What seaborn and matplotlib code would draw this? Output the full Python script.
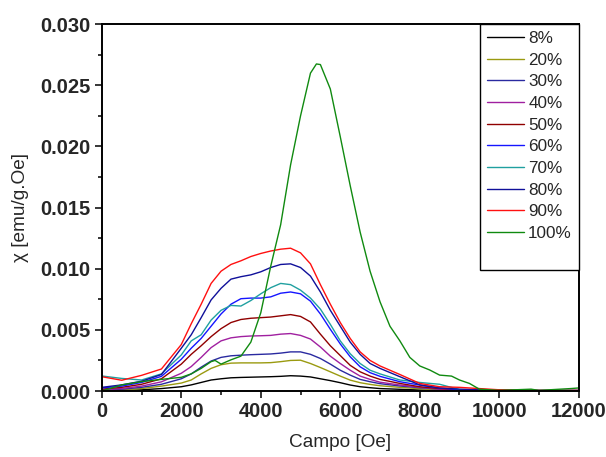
import numpy as np
import pandas as pd
import matplotlib
matplotlib.use('Agg')
import matplotlib.pyplot as plt
from matplotlib.ticker import MultipleLocator, FormatStrFormatter
import seaborn as sns

# campo (Oe) comun a las curvas 8%..90%
campo = [0, 500, 1000, 1500, 2000, 2250, 2500, 2750, 3000, 3250, 3500, 3750,
         4000, 4250, 4500, 4750, 5000, 5250, 5500, 5750, 6000, 6250, 6500, 6750,
         7000, 7500, 8000, 8500, 9000, 10000, 11000, 12000]

# chi en unidades de 1e-3 emu/g.Oe
chi_8 = [0.0, 0.03, 0.1, 0.2, 0.35, 0.5, 0.7, 0.9, 1.0, 1.08, 1.11, 1.13,
         1.15, 1.17, 1.2, 1.25, 1.22, 1.15, 1.0, 0.85, 0.68, 0.49, 0.35, 0.27,
         0.2, 0.14, 0.08, 0.05, 0.03, 0.02, 0.02, 0.02]
chi_20 = [0.05, 0.1, 0.2, 0.4, 0.65, 0.9, 1.4, 1.85, 2.15, 2.28, 2.3, 2.3,
          2.3, 2.32, 2.4, 2.5, 2.52, 2.25, 1.92, 1.57, 1.22, 0.89, 0.68, 0.54,
          0.43, 0.3, 0.19, 0.1, 0.06, 0.03, 0.02, 0.02]
chi_30 = [0.05, 0.15, 0.3, 0.55, 1.0, 1.4, 1.95, 2.45, 2.75, 2.88, 2.93, 2.97,
          3.0, 3.03, 3.1, 3.2, 3.2, 3.0, 2.66, 2.2, 1.7, 1.3, 0.95, 0.76,
          0.6, 0.41, 0.27, 0.15, 0.08, 0.04, 0.03, 0.03]
chi_40 = [0.1, 0.2, 0.4, 0.75, 1.45, 2.0, 2.75, 3.55, 4.1, 4.35, 4.45, 4.5,
          4.52, 4.55, 4.65, 4.7, 4.55, 4.25, 3.6, 2.85, 2.25, 1.7, 1.22, 0.95,
          0.72, 0.49, 0.3, 0.15, 0.08, 0.04, 0.03, 0.03]
chi_50 = [0.15, 0.3, 0.55, 1.0, 2.2, 3.0, 3.7, 4.45, 5.1, 5.6, 5.85, 5.95,
          6.0, 6.05, 6.15, 6.25, 6.1, 5.65, 4.65, 3.7, 2.9, 2.1, 1.57, 1.22,
          0.95, 0.62, 0.35, 0.2, 0.1, 0.05, 0.03, 0.03]
chi_60 = [0.25, 0.4, 0.7, 1.2, 2.6, 3.5, 4.3, 5.3, 6.3, 7.1, 7.55, 7.6,
          7.6, 7.7, 8.0, 8.1, 7.95, 7.35, 6.3, 5.05, 3.85, 2.8, 1.98, 1.5,
          1.2, 0.76, 0.49, 0.25, 0.1, 0.05, 0.03, 0.03]
chi_70 = [1.23, 1.03, 0.9, 1.4, 2.95, 4.1, 4.6, 5.8, 6.6, 7.0, 6.95, 7.4,
          7.95, 8.45, 8.8, 8.7, 8.25, 7.6, 6.7, 5.45, 4.1, 3.05, 2.25, 1.7,
          1.4, 0.9, 0.7, 0.55, 0.12, 0.05, 0.03, 0.03]
chi_80 = [0.3, 0.5, 0.8, 1.35, 3.5, 4.6, 6.0, 7.45, 8.4, 9.15, 9.35, 9.5,
          9.75, 10.1, 10.35, 10.4, 10.1, 9.4, 8.1, 6.6, 5.3, 4.0, 3.0, 2.25,
          1.85, 1.17, 0.5, 0.25, 0.15, 0.08, 0.05, 0.05]
chi_90 = [1.17, 0.88, 1.28, 1.8, 3.8, 5.5, 7.1, 8.8, 9.8, 10.35, 10.65, 11.0,
          11.25, 11.45, 11.6, 11.68, 11.3, 10.4, 8.7, 7.1, 5.6, 4.3, 3.2, 2.5,
          2.05, 1.35, 0.62, 0.35, 0.3, 0.1, 0.05, 0.05]

# la curva 100% tiene su propio muestreo (pico estrecho)
campo_100 = [0, 500, 1000, 1500, 2000, 2250, 2500, 2750, 2850, 3000, 3250, 3500,
             3750, 4000, 4250, 4500, 4750, 5000, 5250, 5400, 5500, 5750, 6000,
             6250, 6500, 6750, 7000, 7250, 7500, 7750, 8000, 8250, 8500, 8800,
             9000, 9250, 9500, 10000, 10800, 11000, 11800, 12000]
chi_100 = [0.0, 0.5, 0.77, 0.95, 1.12, 1.4, 1.85, 2.4, 2.5, 2.2, 2.55, 2.85,
           4.0, 6.4, 10.2, 13.6, 18.5, 22.5, 26.0, 26.75, 26.7, 24.7, 20.8,
           16.8, 13.0, 9.8, 7.3, 5.3, 4.1, 2.75, 2.05, 1.72, 1.3, 1.22,
           0.9, 0.62, 0.15, 0.05, 0.15, 0.05, 0.2, 0.25]

etiquetas = ['8%', '20%', '30%', '40%', '50%', '60%', '70%', '80%', '90%', '100%']
colores = ['#000000', '#9a9a10', '#2a2aa0', '#a020a0', '#900000',
           '#1515ff', '#20a0a0', '#10109a', '#ff1010', '#108a10']

series = [chi_8, chi_20, chi_30, chi_40, chi_50, chi_60, chi_70, chi_80, chi_90]

sns.set_style('ticks')
plt.rcParams['font.family'] = ['Liberation Sans', 'DejaVu Sans']

fig = plt.figure(figsize=(6.06, 4.57), dpi=100)
ax = fig.add_axes([0.168, 0.1444, 0.787, 0.8026])

for lab, col, y in zip(etiquetas[:-1], colores[:-1], series):
    sns.lineplot(x=campo, y=np.array(y) * 1e-3, color=col, lw=1.0, label=lab, ax=ax)
sns.lineplot(x=campo_100, y=np.array(chi_100) * 1e-3, color=colores[-1], lw=1.0,
             label=etiquetas[-1], ax=ax)

ax.set_xlim(0, 12000)
ax.set_ylim(0, 0.030)
ax.xaxis.set_major_locator(MultipleLocator(2000))
ax.xaxis.set_minor_locator(MultipleLocator(1000))
ax.yaxis.set_major_locator(MultipleLocator(0.005))
ax.yaxis.set_minor_locator(MultipleLocator(0.0025))
ax.yaxis.set_major_formatter(FormatStrFormatter('%.3f'))

ax.tick_params(which='major', direction='out', length=5, width=1.3,
               labelsize=14.5, pad=3)
ax.tick_params(which='minor', direction='out', length=3, width=1.3)
for t in ax.get_xticklabels() + ax.get_yticklabels():
    t.set_fontweight('bold')

for s in ax.spines.values():
    s.set_linewidth(1.4)
    s.set_color('black')

ax.set_xlabel('Campo [Oe]', fontsize=13.7, labelpad=9)
ax.set_ylabel('χ [emu/g.Oe]', fontsize=13.7, labelpad=8)

handles, labels = ax.get_legend_handles_labels()
# fila vacia al final, como en el original
handles.append(plt.Line2D([], [], color='none'))
labels.append(' ')
leg = ax.legend(handles, labels, loc='upper right', borderaxespad=0,
                fontsize=12.3, frameon=True, fancybox=False, framealpha=1,
                edgecolor='black', handlelength=2.2, handletextpad=0.22,
                labelspacing=0.39, borderpad=0.4)
leg.get_frame().set_linewidth(1.0)

fig.savefig('out.png', dpi=100)
